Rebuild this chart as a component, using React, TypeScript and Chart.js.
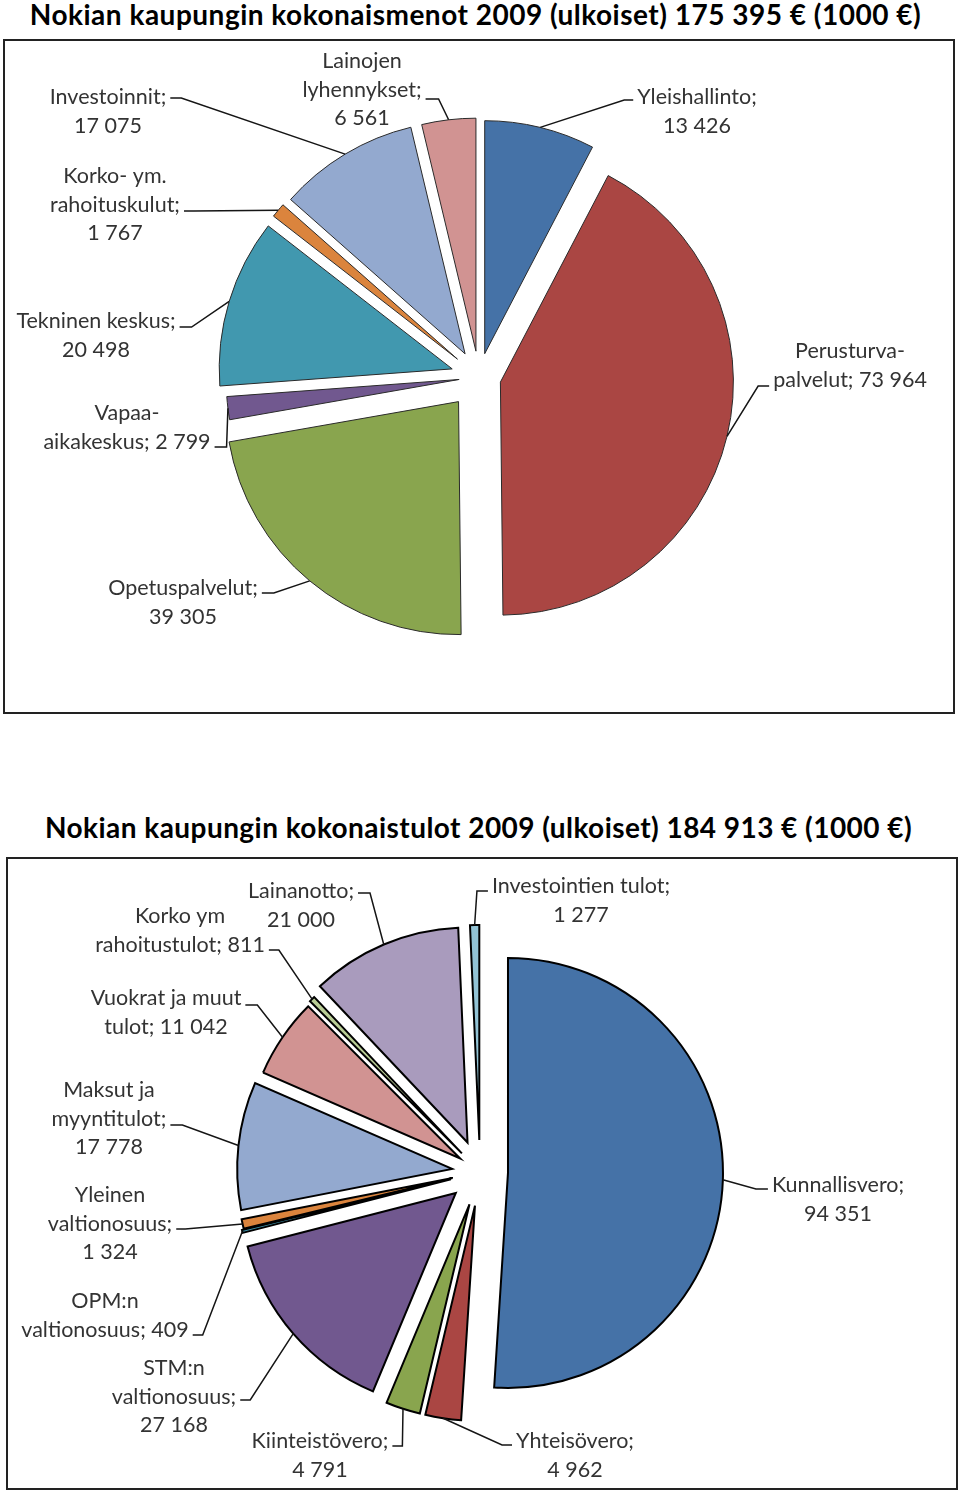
import { useEffect, useRef } from "react";
import { Chart, registerables } from "chart.js";

Chart.register(...registerables);

// ---------- data ----------
const expenseTitle = "Nokian kaupungin kokonaismenot 2009 (ulkoiset) 175 395 € (1000 €)";
const incomeTitle = "Nokian kaupungin kokonaistulot 2009 (ulkoiset) 184 913 € (1000 €)";

const expenseCategories = [
  "Yleishallinto",
  "Perusturvapalvelut",
  "Opetuspalvelut",
  "Vapaa-aikakeskus",
  "Tekninen keskus",
  "Korko- ym. rahoituskulut",
  "Investoinnit",
  "Lainojen lyhennykset",
];
const expenseValues = [13426, 73964, 39305, 2799, 20498, 1767, 17075, 6561];
const expenseLabelText = [
  ["Yleishallinto;", "{v}"],
  ["Perusturva-", "palvelut; {v}"],
  ["Opetuspalvelut;", "{v}"],
  ["Vapaa-", "aikakeskus; {v}"],
  ["Tekninen keskus;", "{v}"],
  ["Korko- ym.", "rahoituskulut;", "{v}"],
  ["Investoinnit;", "{v}"],
  ["Lainojen", "lyhennykset;", "{v}"],
];
const expenseColors = ["#4572A7", "#AA4643", "#89A54E", "#71588F", "#4198AF", "#DB843D", "#93A9CF", "#D19392"];

const incomeCategories = [
  "Kunnallisvero",
  "Yhteisövero",
  "Kiinteistövero",
  "STM:n valtionosuus",
  "OPM:n valtionosuus",
  "Yleinen valtionosuus",
  "Maksut ja myyntitulot",
  "Vuokrat ja muut tulot",
  "Korko ym rahoitustulot",
  "Lainanotto",
  "Investointien tulot",
];
const incomeValues = [94351, 4962, 4791, 27168, 409, 1324, 17778, 11042, 811, 21000, 1277];
const incomeLabelText = [
  ["Kunnallisvero;", "{v}"],
  ["Yhteisövero;", "{v}"],
  ["Kiinteistövero;", "{v}"],
  ["STM:n", "valtionosuus;", "{v}"],
  ["OPM:n", "valtionosuus; {v}"],
  ["Yleinen", "valtionosuus;", "{v}"],
  ["Maksut ja", "myyntitulot;", "{v}"],
  ["Vuokrat ja muut", "tulot; {v}"],
  ["Korko ym", "rahoitustulot; {v}"],
  ["Lainanotto;", "{v}"],
  ["Investointien tulot;", "{v}"],
];
const incomeColors = [
  "#4572A7", "#AA4643", "#89A54E", "#71588F", "#4198AF", "#DB843D",
  "#93A9CF", "#D19392", "#B9CD96", "#A99BBD", "#92C3D5",
];

// ---------- layout (page coordinates) ----------
// x: text centre, y: first baseline; tick: side of text (-1 left / 1 right),
// which text line it leaves from, its y, and its horizontal length
type LabelLayout = { x: number; y: number; side: number; line: number; ty: number; len: number };

const expenseLayout = {
  top: 40,
  height: 672,
  padding: { left: 0, right: 2, top: 2, bottom: 0 },
  radius: 233,
  explode: [24, 22, 32, 20, 28, 28, 27, 26],
  borderColor: "#2a2a2a",
  borderWidth: 1,
  labels: [
    { x: 697, y: 104, side: -1, line: 0, ty: 100, len: 9 },
    { x: 850, y: 358, side: -1, line: 1, ty: 386, len: 11 },
    { x: 183, y: 595, side: 1, line: 0, ty: 593, len: 12 },
    { x: 127, y: 420, side: 1, line: 1, ty: 447, len: 12 },
    { x: 96, y: 328, side: 1, line: 0, ty: 327, len: 12 },
    { x: 115, y: 183, side: 1, line: 1, ty: 211, len: 10 },
    { x: 108, y: 104, side: 1, line: 0, ty: 98, len: 11 },
    { x: 362, y: 68, side: 1, line: 1, ty: 99, len: 13 },
  ] as LabelLayout[],
};

const incomeLayout = {
  top: 859,
  height: 630,
  padding: { left: 0, right: 0, top: 0, bottom: 4 },
  radius: 215,
  explode: [28, 34, 34, 32, 30, 28, 28, 24, 26, 32, 32],
  borderColor: "#000000",
  borderWidth: 2,
  labels: [
    { x: 838, y: 1192, side: -1, line: 0, ty: 1189, len: 12 },
    { x: 575, y: 1448, side: -1, line: 0, ty: 1445, len: 10 },
    { x: 320, y: 1448, side: 1, line: 0, ty: 1446, len: 10 },
    { x: 174, y: 1375, side: 1, line: 1, ty: 1400, len: 10 },
    { x: 105, y: 1308, side: 1, line: 1, ty: 1335, len: 10 },
    { x: 110, y: 1202, side: 1, line: 1, ty: 1229, len: 9 },
    { x: 109, y: 1097, side: 1, line: 1, ty: 1125, len: 12 },
    { x: 166, y: 1005, side: 1, line: 0, ty: 1005, len: 12 },
    { x: 180, y: 923, side: 1, line: 1, ty: 950, len: 10 },
    { x: 301, y: 898, side: 1, line: 0, ty: 893, len: 12 },
    { x: 581, y: 893, side: -1, line: 0, ty: 891, len: 11 },
  ] as LabelLayout[],
};

const LABEL_FONT = "21.5px Lato";
const LABEL_COLOR = "#333333";
const LINE_HEIGHT = 28.5;
const TICK_GAP = 4;

function fmt(v: number) {
  return String(v).replace(/\B(?=(\d{3})+(?!\d))/g, " ");
}

function makeLabelPlugin(layout: any, texts: string[][], values: number[]) {
  return {
    id: "pieLabels",
    beforeDatasetsDraw(chart: any) {
      // explode each slice outward along the bisector of its own angles
      const meta = chart.getDatasetMeta(0);
      const ca = chart.chartArea;
      const cx = (ca.left + ca.right) / 2;
      const cy = (ca.top + ca.bottom) / 2;
      meta.data.forEach((arc: any, i: number) => {
        const d = layout.explode[i];
        const mid = (arc.startAngle + arc.endAngle) / 2;
        arc.x = cx + Math.cos(mid) * d;
        arc.y = cy + Math.sin(mid) * d;
        arc.outerRadius = layout.radius;
      });
    },
    afterDatasetsDraw(chart: any) {
      const ctx = chart.ctx as CanvasRenderingContext2D;
      const meta = chart.getDatasetMeta(0);
      const top = layout.top;
      ctx.save();
      ctx.font = LABEL_FONT;
      ctx.lineWidth = 1.5;
      ctx.strokeStyle = "#151515";
      ctx.lineJoin = "miter";
      meta.data.forEach((arc: any, i: number) => {
        const L = layout.labels[i];
        if (!L) return;
        const lineText = texts[i][L.line].replace("{v}", fmt(values[i]));
        const w = ctx.measureText(lineText).width;
        const x1 = L.x + L.side * (w / 2 + TICK_GAP);
        const x2 = x1 + L.side * L.len;
        const mid = (arc.startAngle + arc.endAngle) / 2;
        const px = arc.x + Math.cos(mid) * layout.radius;
        const py = arc.y + Math.sin(mid) * layout.radius;
        ctx.beginPath();
        ctx.moveTo(x1, L.ty - top);
        ctx.lineTo(x2, L.ty - top);
        ctx.lineTo(px, py);
        ctx.stroke();
      });
      ctx.fillStyle = LABEL_COLOR;
      ctx.textAlign = "center";
      ctx.textBaseline = "alphabetic";
      texts.forEach((lines, i) => {
        const L = layout.labels[i];
        lines.forEach((line, k) => {
          const s = line.replace("{v}", fmt(values[i]));
          ctx.fillText(s, L.x, L.y - top + k * LINE_HEIGHT);
        });
      });
      ctx.restore();
    },
  };
}

function PieChart(props: {
  layout: any;
  categories: string[];
  values: number[];
  colors: string[];
  texts: string[][];
}) {
  const { layout, categories, values, colors, texts } = props;
  const ref = useRef<HTMLCanvasElement>(null);
  useEffect(() => {
    const chart = new Chart(ref.current as HTMLCanvasElement, {
      type: "pie",
      data: {
        labels: categories,
        datasets: [
          {
            data: values,
            backgroundColor: colors,
            borderColor: layout.borderColor,
            borderWidth: layout.borderWidth,
            borderJoinStyle: "miter",
            offset: 0,
            radius: layout.radius,
          } as any,
        ],
      },
      options: {
        responsive: false,
        animation: false,
        events: [],
        radius: layout.radius,
        layout: { padding: layout.padding },
        plugins: {
          legend: { display: false },
          tooltip: { enabled: false },
          title: { display: false },
        },
      } as any,
      plugins: [makeLabelPlugin(layout, texts, values)],
    });
    return () => chart.destroy();
  }, []);
  return (
    <canvas
      ref={ref}
      width={960}
      height={layout.height}
      style={{ position: "absolute", left: 0, top: layout.top, width: 960, height: layout.height }}
    />
  );
}

export default function App() {
  const titleStyle: any = {
    position: "absolute",
    textAlign: "center",
    fontFamily: "Lato, sans-serif",
    fontWeight: 700,
    fontSize: 28,
    lineHeight: "30px",
    color: "#000",
    whiteSpace: "nowrap",
  };
  return (
    <div style={{ position: "absolute", left: 0, top: 0, width: 960, height: 1490, background: "#fff", overflow: "hidden" }}>
      <div style={{ ...titleStyle, left: 0, top: -1, width: 951, letterSpacing: "0.5px" }}>{expenseTitle}</div>
      <PieChart
        layout={expenseLayout}
        categories={expenseCategories}
        values={expenseValues}
        colors={expenseColors}
        texts={expenseLabelText}
      />
      <div
        style={{
          position: "absolute", left: 3, top: 39, width: 952, height: 675,
          boxSizing: "border-box", border: "2px solid #222",
        }}
      />
      <div style={{ ...titleStyle, left: 0, top: 812, width: 957, letterSpacing: "0.45px" }}>{incomeTitle}</div>
      <PieChart
        layout={incomeLayout}
        categories={incomeCategories}
        values={incomeValues}
        colors={incomeColors}
        texts={incomeLabelText}
      />
      <div
        style={{
          position: "absolute", left: 6, top: 857, width: 952, height: 633,
          boxSizing: "border-box", border: "2px solid #222",
        }}
      />
    </div>
  );
}
